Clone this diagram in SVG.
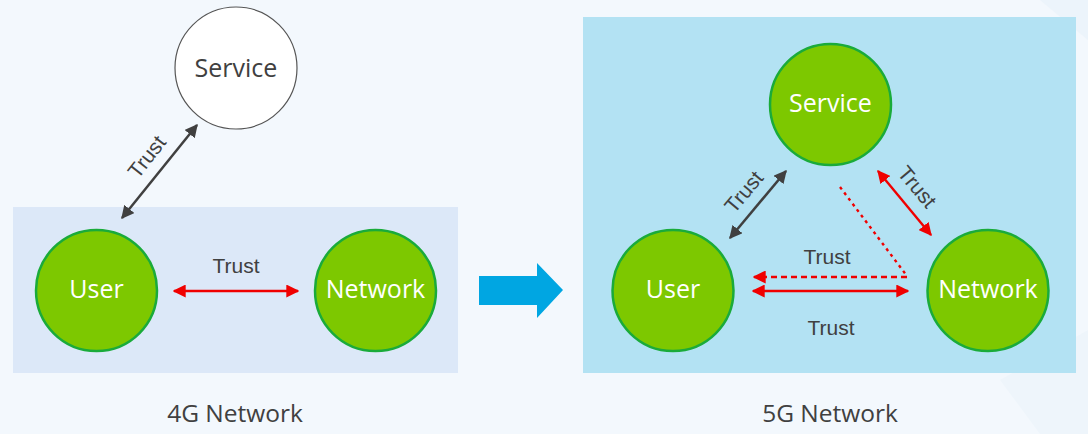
<svg xmlns="http://www.w3.org/2000/svg" width="1088" height="434" viewBox="0 0 1088 434">
<defs>
<style>
.node-green{fill:#7dc800;stroke:#1aab3a;stroke-width:2.5}
.node-white{fill:#ffffff;stroke:#555555;stroke-width:1.2}
.lbl{font-family:"Open Sans","Liberation Sans",sans-serif;font-size:25px;text-anchor:middle}
.lbl-w{fill:#ffffff}
.lbl-d{fill:#404040}
.trust{font-family:"Liberation Sans",Arial,sans-serif;font-size:21px;fill:#404040;text-anchor:middle}
.cap{font-family:"Open Sans","Liberation Sans",sans-serif;font-size:24.5px;fill:#404040;text-anchor:middle}
.gray{stroke:#404040;stroke-width:2.5;fill:none}
.red{stroke:#f00000;stroke-width:2.4;fill:none}
</style>
<marker id="ag" viewBox="0 0 10 10" refX="9" refY="5" markerWidth="13" markerHeight="13" markerUnits="userSpaceOnUse" orient="auto-start-reverse"><path d="M0,0 L10,5 L0,10 z" fill="#404040"/></marker>
<marker id="ar" viewBox="0 0 10 10" refX="9" refY="5" markerWidth="13" markerHeight="13" markerUnits="userSpaceOnUse" orient="auto-start-reverse"><path d="M0,0 L10,5 L0,10 z" fill="#f00000"/></marker>
</defs>
<rect x="0" y="0" width="1088" height="434" fill="#f3f8fd"/>
<polygon points="1040,0 1088,0 1088,40" fill="#ecf4fb"/>
<polygon points="1000,380 1088,330 1088,434 1040,434" fill="#eef5fb"/>
<rect x="13" y="207" width="445" height="166" fill="#dce8f8"/>
<rect x="583" y="17" width="493" height="356" fill="#b3e2f3"/>
<polygon points="479,276 537,276 537,263 563,290 537,318 537,305 479,305" fill="#00a6e2"/>

<g id="connectors">
<line class="gray" x1="122" y1="218" x2="197" y2="125" marker-start="url(#ag)" marker-end="url(#ag)"/>
<line class="red" x1="174" y1="291" x2="298" y2="291" marker-start="url(#ar)" marker-end="url(#ar)"/>
<line class="gray" x1="730" y1="238" x2="786" y2="171" marker-start="url(#ag)" marker-end="url(#ag)"/>
<line class="red" x1="878" y1="171" x2="931" y2="235" marker-start="url(#ar)" marker-end="url(#ar)"/>
<line class="red" x1="753" y1="291" x2="908" y2="291" marker-start="url(#ar)" marker-end="url(#ar)"/>
<line class="red" x1="840" y1="187" x2="907" y2="276" stroke-dasharray="3,4"/>
<path class="red" d="M907,277 L754,277" stroke-dasharray="6,4" marker-end="url(#ar)"/>
</g>
<g id="connector-labels">
<text class="trust" transform="translate(147,157) rotate(-52)" dy="7">Trust</text>
<text class="trust" x="236" y="273">Trust</text>
<text class="trust" transform="translate(744,192) rotate(-50)" dy="7">Trust</text>
<text class="trust" transform="translate(917,187) rotate(50)" dy="7">Trust</text>
<text class="trust" x="827" y="264">Trust</text>
<text class="trust" x="831" y="335">Trust</text>
</g>

<g id="node-4g-service"><circle class="node-white" cx="236" cy="68" r="61"/><text class="lbl lbl-d" x="236" y="77">Service</text></g>
<g id="node-4g-user"><circle class="node-green" cx="96.5" cy="290.5" r="60.5"/><text class="lbl lbl-w" x="96.5" y="298">User</text></g>
<g id="node-4g-network"><circle class="node-green" cx="375.5" cy="290.5" r="60.5"/><text class="lbl lbl-w" x="375.5" y="298">Network</text></g>
<g id="node-5g-service"><circle class="node-green" cx="830.5" cy="104.5" r="60.5"/><text class="lbl lbl-w" x="830.5" y="112">Service</text></g>
<g id="node-5g-user"><circle class="node-green" cx="673" cy="290.5" r="60.5"/><text class="lbl lbl-w" x="673" y="298">User</text></g>
<g id="node-5g-network"><circle class="node-green" cx="988" cy="290.5" r="60.5"/><text class="lbl lbl-w" x="988" y="298">Network</text></g>

<text class="cap" x="235" y="422">4G Network</text>
<text class="cap" x="830" y="422">5G Network</text>
</svg>
